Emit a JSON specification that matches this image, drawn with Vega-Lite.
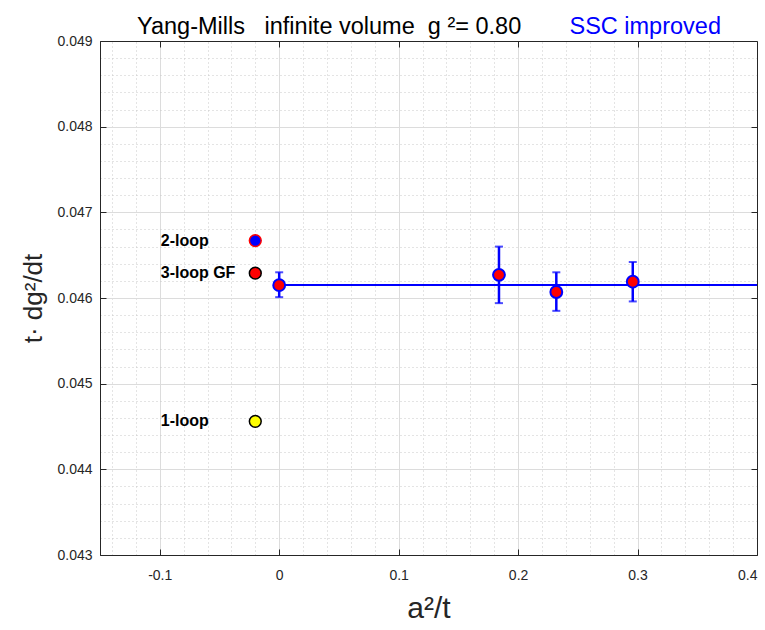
{
  "$schema": "https://vega.github.io/schema/vega-lite/v6.json",
  "width": 657,
  "height": 514,
  "autosize": {"type": "none"},
  "padding": {"left": 100, "top": 41, "right": 8, "bottom": 75},
  "background": "white",
  "config": {
    "font": "Liberation Sans",
    "view": {"stroke": "#262626", "strokeWidth": 1}
  },
  "title": {
    "text": "Yang-Mills\u00a0\u00a0\u00a0infinite volume\u00a0\u00a0g\u00a0²= 0.80",
    "anchor": "start",
    "frame": "group",
    "dx": 37,
    "offset": -24,
    "fontSize": 23.5,
    "fontWeight": "normal",
    "color": "black",
    "font": "Liberation Sans"
  },
  "datasets": {
    "pts": [
      {"x": 0.0, "y": 0.04615, "lo": 0.04601, "hi": 0.04630, "series": "data"},
      {"x": 0.184, "y": 0.04627, "lo": 0.04594, "hi": 0.04660, "series": "data"},
      {"x": 0.232, "y": 0.04607, "lo": 0.04585, "hi": 0.04630, "series": "data"},
      {"x": 0.296, "y": 0.04619, "lo": 0.04596, "hi": 0.04642, "series": "data"}
    ],
    "refs": [
      {"x": -0.02, "y": 0.04667, "series": "2-loop", "label": "2-loop"},
      {"x": -0.02, "y": 0.04629, "series": "3-loop GF", "label": "3-loop GF"},
      {"x": -0.02, "y": 0.04456, "series": "1-loop", "label": "1-loop"}
    ],
    "fit": [{"x": 0.0, "x2": 0.4, "y": 0.046152}],
    "note": [{"x": 0.243, "y": 0.049085, "label": "SSC improved"}]
  },
  "layer": [
    {
      "data": {"name": "fit"},
      "mark": {"type": "point", "opacity": 0},
      "encoding": {
        "x": {
          "field": "x", "type": "quantitative",
          "scale": {"domain": [-0.15, 0.4], "nice": false, "zero": false},
          "axis": {
            "orient": "top",
            "values": [-0.14,-0.12,-0.1,-0.08,-0.06,-0.04,-0.02,0,0.02,0.04,0.06,0.08,0.1,0.12,0.14,0.16,0.18,0.2,0.22,0.24,0.26,0.28,0.3,0.32,0.34,0.36,0.38],
            "labels": false,
            "title": null,
            "domain": true,
            "domainColor": "#262626",
            "grid": true,
            "gridColor": "#c8c8c8",
            "gridDash": [1, 3],
            "gridOpacity": {"condition": {"test": "abs(datum.value*10 - round(datum.value*10)) < 0.001", "value": 0}, "value": 1},
            "ticks": true,
            "tickSize": -6,
            "tickColor": "#262626",
            "tickOpacity": {"condition": {"test": "abs(datum.value*10 - round(datum.value*10)) < 0.001", "value": 1}, "value": 0}
          }
        },
        "y": {
          "field": "y", "type": "quantitative",
          "scale": {"domain": [0.043, 0.049], "nice": false, "zero": false},
          "axis": {
            "orient": "right",
            "values": [0.0432,0.0434,0.0436,0.0438,0.044,0.0442,0.0444,0.0446,0.0448,0.045,0.0452,0.0454,0.0456,0.0458,0.046,0.0462,0.0464,0.0466,0.0468,0.047,0.0472,0.0474,0.0476,0.0478,0.048,0.0482,0.0484,0.0486,0.0488],
            "labels": false,
            "title": null,
            "domain": true,
            "domainColor": "#262626",
            "grid": true,
            "gridColor": "#c8c8c8",
            "gridDash": [1, 3],
            "gridOpacity": {"condition": {"test": "abs(datum.value*1000 - round(datum.value*1000)) < 0.001", "value": 0}, "value": 1},
            "ticks": true,
            "tickSize": -6,
            "tickColor": "#262626",
            "tickOpacity": {"condition": {"test": "abs(datum.value*1000 - round(datum.value*1000)) < 0.001", "value": 1}, "value": 0}
          }
        }
      }
    },
    {
      "data": {"name": "fit"},
      "mark": {"type": "point", "opacity": 0},
      "encoding": {
        "x": {
          "field": "x", "type": "quantitative",
          "axis": {
            "orient": "bottom",
            "values": [-0.1, 0, 0.1, 0.2, 0.3, 0.4],
            "format": "~g",
            "labelExpr": "replace(datum.label, '\u2212', '-')",
            "labelFontSize": 14,
            "labelColor": "#262626",
            "labelPadding": 19,
            "domainColor": "#262626",
            "grid": true,
            "gridColor": "#dcdcdc",
            "gridWidth": 1,
            "tickSize": -6,
            "tickColor": "#262626",
            "title": "a²/t",
            "titleFontSize": 30,
            "titleFontWeight": "normal",
            "titleColor": "#262626",
            "titlePadding": 11
          }
        },
        "y": {
          "field": "y", "type": "quantitative",
          "axis": {
            "orient": "left",
            "values": [0.043, 0.044, 0.045, 0.046, 0.047, 0.048, 0.049],
            "format": ".3f",
            "labelFontSize": 14,
            "labelColor": "#262626",
            "labelPadding": 14,
            "domainColor": "#262626",
            "grid": true,
            "gridColor": "#dcdcdc",
            "gridWidth": 1,
            "tickSize": -6,
            "tickColor": "#262626",
            "title": "t· dg²/dt",
            "titleFontSize": 26,
            "titleFontWeight": "normal",
            "titleColor": "#262626",
            "titlePadding": 10
          }
        }
      }
    },
    {
      "data": {"name": "fit"},
      "mark": {"type": "rule", "color": "#0000ff", "strokeWidth": 2},
      "encoding": {
        "x": {"field": "x", "type": "quantitative", "axis": null},
        "x2": {"field": "x2"},
        "y": {"field": "y", "type": "quantitative", "axis": null}
      }
    },
    {
      "data": {"name": "pts"},
      "mark": {"type": "errorbar", "ticks": {"size": 8, "thickness": 2, "color": "#0000ff"}, "rule": {"color": "#0000ff", "strokeWidth": 2.5}},
      "encoding": {
        "x": {"field": "x", "type": "quantitative", "axis": null},
        "y": {"field": "lo", "type": "quantitative", "axis": null},
        "y2": {"field": "hi"}
      }
    },
    {
      "data": {"name": "pts"},
      "mark": {"type": "point", "shape": "circle", "filled": true, "size": 140, "strokeWidth": 2, "opacity": 1},
      "encoding": {
        "x": {"field": "x", "type": "quantitative", "axis": null},
        "y": {"field": "y", "type": "quantitative", "axis": null},
        "fill": {"field": "series", "type": "nominal", "scale": {"domain": ["data", "2-loop", "3-loop GF", "1-loop"], "range": ["#ff0000", "#0000ff", "#ff0000", "#ffff00"]}, "legend": null},
        "stroke": {"field": "series", "type": "nominal", "scale": {"domain": ["data", "2-loop", "3-loop GF", "1-loop"], "range": ["#0000ff", "#ff0000", "#000000", "#000000"]}, "legend": null}
      }
    },
    {
      "data": {"name": "refs"},
      "mark": {"type": "point", "shape": "circle", "filled": true, "size": 140, "strokeWidth": 1.5, "opacity": 1},
      "encoding": {
        "x": {"field": "x", "type": "quantitative", "axis": null},
        "y": {"field": "y", "type": "quantitative", "axis": null},
        "fill": {"field": "series", "type": "nominal", "legend": null},
        "stroke": {"field": "series", "type": "nominal", "legend": null}
      }
    },
    {
      "data": {"name": "refs"},
      "mark": {"type": "text", "align": "left", "baseline": "middle", "fontSize": 16, "fontWeight": "bold", "color": "black", "dx": 1},
      "encoding": {
        "x": {"datum": -0.1, "type": "quantitative", "axis": null},
        "y": {"field": "y", "type": "quantitative", "axis": null},
        "text": {"field": "label"}
      }
    },
    {
      "data": {"name": "note"},
      "mark": {"type": "text", "align": "left", "baseline": "alphabetic", "fontSize": 23.5, "color": "#0000ff", "clip": false},
      "encoding": {
        "x": {"field": "x", "type": "quantitative", "axis": null},
        "y": {"field": "y", "type": "quantitative", "axis": null},
        "text": {"field": "label"}
      }
    }
  ],
  "resolve": {"axis": {"x": "independent", "y": "independent"}}
}
